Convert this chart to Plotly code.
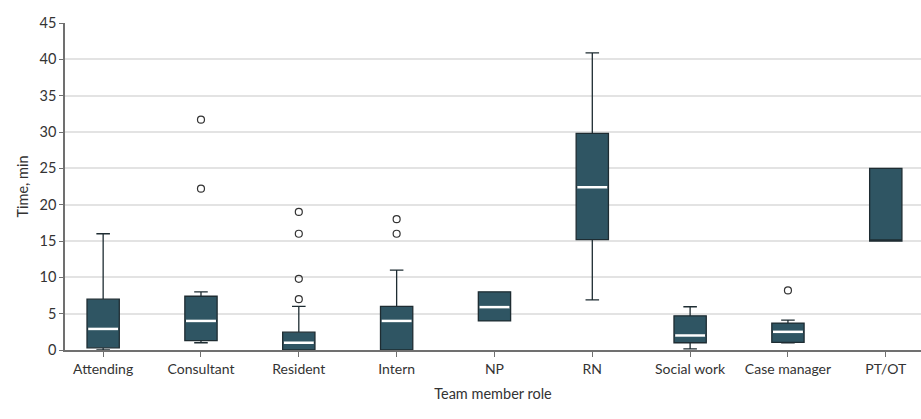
import plotly.graph_objects as go

roles = ["Attending", "Consultant", "Resident", "Intern", "NP", "RN",
         "Social work", "Case manager", "PT/OT"]
lower_fence = [0.0, 1.0, 0.0, 0.0, 4.0, 6.9, 0.15, 1.0, 15.0]
q1 = [0.3, 1.3, 0.0, 0.0, 4.0, 15.2, 1.0, 1.05, 15.0]
median = [2.9, 4.0, 1.0, 4.0, 5.9, 22.4, 2.0, 2.5, 15.0]
q3 = [7.0, 7.4, 2.45, 6.0, 8.0, 29.8, 4.7, 3.7, 25.0]
upper_fence = [16.0, 8.0, 6.0, 11.0, 8.0, 40.9, 5.95, 4.1, 25.0]

outlier_role = ["Consultant", "Consultant", "Resident", "Resident", "Resident",
                "Resident", "Intern", "Intern", "Case manager"]
outlier_value = [31.7, 22.2, 19.0, 16.0, 9.8, 7.0, 18.0, 16.0, 8.2]

y_ticks = list(range(0, 50, 5))

pos = list(range(len(roles)))
box_width = 0.33
fill = "#2f5563"
edge = "#1e2c32"
font_family = "Lato, 'Open Sans', sans-serif"

fig = go.Figure()

fig.add_trace(go.Box(
    x=pos, q1=q1, median=median, q3=q3,
    lowerfence=lower_fence, upperfence=upper_fence,
    width=box_width, whiskerwidth=0.42,
    fillcolor=fill, line=dict(color=edge, width=1.3),
    boxpoints=False, showlegend=False, hoverinfo="skip",
))

# White median bars drawn over each box (skipped when the median sits on an edge)
mx, my = [], []
half = box_width / 2 - 0.012
for i, (m, a, b) in enumerate(zip(median, q1, q3)):
    if m == a or m == b:
        continue
    mx += [i - half, i + half, None]
    my += [m, m, None]
fig.add_trace(go.Scatter(x=mx, y=my, mode="lines",
                         line=dict(color="white", width=2.5),
                         showlegend=False, hoverinfo="skip"))

# Outlying observations as open circles
ox = [roles.index(r) for r in outlier_role]
fig.add_trace(go.Scatter(
    x=ox, y=outlier_value, mode="markers",
    marker=dict(symbol="circle-open", size=7, color="#333333",
                line=dict(width=1.2, color="#333333")),
    showlegend=False, hoverinfo="skip",
))

fig.update_layout(
    width=921, height=419,
    margin=dict(l=65, r=0, t=23, b=69),
    paper_bgcolor="white", plot_bgcolor="white",
    font=dict(family=font_family, size=14, color="#333333"),
    xaxis=dict(
        range=[-0.39, 8.36], tickmode="array", tickvals=pos, ticktext=roles,
        showgrid=False, zeroline=False, showline=True, linecolor="#707070",
        linewidth=1.5, ticks="outside", ticklen=5, tickcolor="#707070",
        tickfont=dict(size=14, color="#333333"),
        title=dict(text="Team member role", font=dict(size=14.5, color="#333333"),
                   standoff=13),
    ),
    yaxis=dict(
        range=[0, 45], tickmode="array", tickvals=y_ticks,
        showgrid=True, gridcolor="#e3e3e3", gridwidth=1.5,
        zeroline=False, showline=True, linecolor="#707070", linewidth=1.5,
        ticks="outside", ticklen=4, tickcolor="#707070",
        tickfont=dict(size=14.5, color="#333333"),
        title=dict(text="Time, min", font=dict(size=14.5, color="#333333"),
                   standoff=7),
    ),
)

fig.write_html("out.html")
